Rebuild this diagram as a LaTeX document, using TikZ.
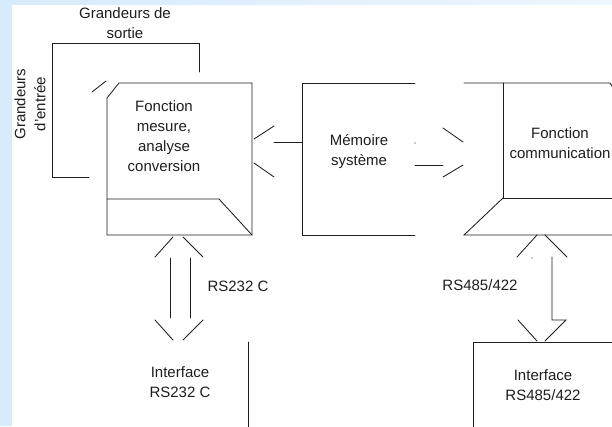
\documentclass[tikz,border=0pt]{standalone}
\usepackage{fontspec}
\setmainfont{Liberation Sans}
\definecolor{pagebg}{HTML}{D6EBFC}
\definecolor{pagebgl}{HTML}{EEF6FE}
\definecolor{ink}{HTML}{1E1E1E}
\tikzset{
  wire/.style={draw=ink, line width=0.85pt, line cap=round, line join=miter},
  lbl/.style={text=ink, font=\fontsize{15}{20}\selectfont, align=center, inner sep=0pt},
}
\begin{document}
\begin{tikzpicture}[x=1pt, y=-1pt]
  % page frame
  \useasboundingbox (0,0) rectangle (612,426);
  \fill[pagebg] (0,0) rectangle (12,426);
  \shade[left color=pagebg, right color=pagebgl] (12,0) rectangle (612,5);
  \fill[white] (12,5) rectangle (612,426);
  \begin{scope}
  \clip (12,5) rectangle (612,426);

  % text labels
  \node[lbl] (sortie) at (125,23.5) {Grandeurs de\\sortie};
  \node[lbl, rotate=90] (entree) at (30,104) {Grandeurs\\d'entrée};
  \node[lbl] (mesure) at (164,136.5) {Fonction\\mesure,\\analyse\\conversion};
  \node[lbl] (memoire) at (359,152) {Mémoire\\système};
  \node[lbl] (comm) at (560,143.5) {Fonction\\communication};
  \node[lbl] (rsA) at (238,286) {RS232 C};
  \node[lbl] (ifA) at (180,382.5) {Interface\\RS232 C};
  \node[lbl] (rsB) at (480,285) {RS485/422};
  \node[lbl] (ifB) at (543,385) {Interface\\RS485/422};

  % loop of input and output quantities
  \coordinate (o1) at (199,72);
  \coordinate (o2) at (199,43);
  \coordinate (o3) at (52,43);
  \coordinate (o4) at (52,177);
  \coordinate (o5) at (89,177);
  \draw[wire] (o1) -- (o2) -- (o3) -- (o4) -- (o5);
  \draw[wire] (92,92) -- (106,81);

  % measurement block
  \draw[wire] (107,98) -- (119,83) -- (252,83) -- (252,235) -- (107,235) -- cycle;
  \draw[wire] (107,199) -- (219,199) -- (252,235);

  % link measurement -> memory
  \draw[wire] (254,139) -- (274,126);
  \draw[wire] (254,163) -- (274,177);
  \draw[wire] (274,142) -- (302,142);

  % memory block
  \draw[wire] (415,83) -- (302,83) -- (302,235) -- (415,235);
  \fill[ink] (415,143) circle (0.7);

  % link memory -> communication
  \draw[wire] (415,165) -- (443,165);
  \draw[wire] (443,128) -- (463,142);
  \draw[wire] (443,177) -- (463,165);

  % communication block
  \draw[wire] (464,83) -- (610,83) -- (614,89);
  \draw[wire] (503,83) -- (503,198) -- (614,198);
  \draw[wire] (503,198) -- (464,235) -- (614,235);

  % RS232 C double arrow
  \draw[wire] (173,237) -- (155,257);
  \draw[wire] (183,237) -- (203,257);
  \draw[wire] (170,258) -- (170,318);
  \draw[wire] (190,258) -- (190,318);
  \draw[wire] (155,320) -- (173,340);
  \draw[wire] (203,320) -- (183,340);
  \draw[wire] (248,342) -- (248,428);

  % RS485/422 double arrow
  \draw[wire] (537,235) -- (517,257);
  \draw[wire] (545,235) -- (567,257);
  \fill[ink] (532,258) circle (0.7);
  \draw[wire] (552,257) -- (552,320) -- (566,320) -- (545,341);
  \draw[wire] (518,320) -- (537,341);

  % RS485/422 interface block
  \draw[wire] (614,342) -- (473,342) -- (473,428);
  \end{scope}
\end{tikzpicture}
\end{document}
